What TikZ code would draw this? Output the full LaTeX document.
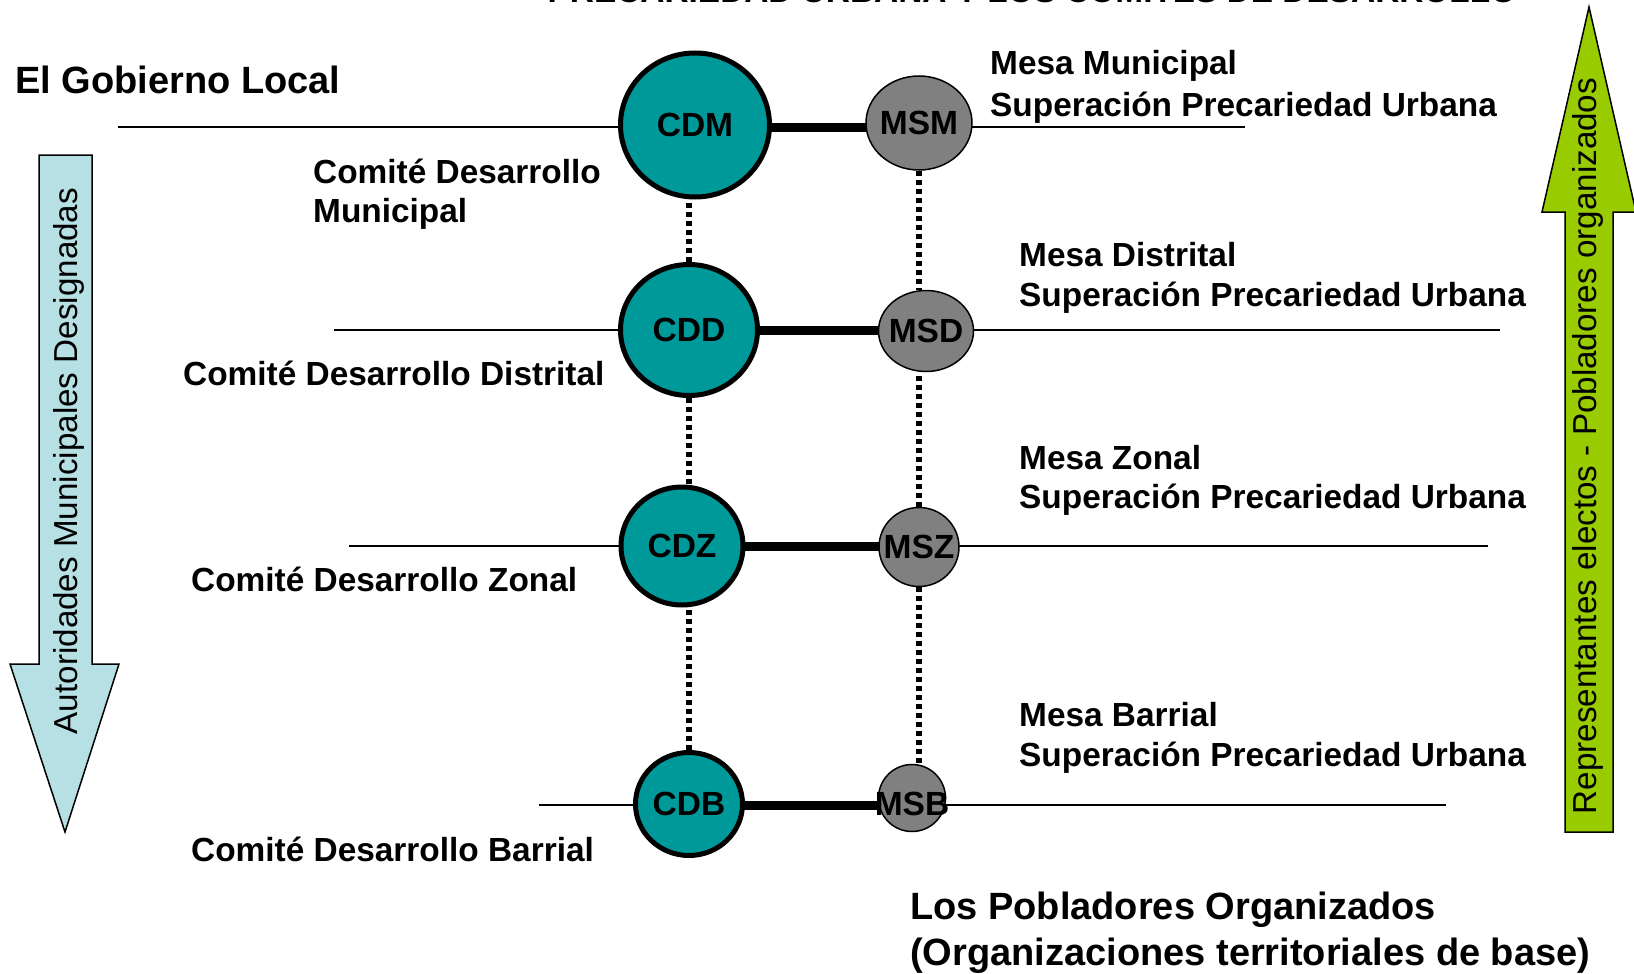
\documentclass[tikz,border=0pt]{standalone}
\usepackage{fontspec}
\setmainfont{Liberation Sans}
\usetikzlibrary{shapes.geometric}
\definecolor{cdteal}{RGB}{0,153,153}
\definecolor{msgray}{RGB}{128,128,128}
\definecolor{arrowblue}{RGB}{183,224,228}
\definecolor{arrowgreen}{RGB}{153,204,0}
\pgfdeclarelayer{bg}
\pgfsetlayers{bg,main}
\begin{document}
\begin{tikzpicture}[x=1pt,y=-1pt,
  thinline/.style={line width=1.5pt},
  thickline/.style={line width=9pt},
  dotline/.style={line width=5.5pt, dash pattern=on 5pt off 4pt},
  cdnode/.style={ellipse, draw, line width=5pt, fill=cdteal, inner sep=0pt,
    font=\bfseries\fontsize{33.5}{33.5}\selectfont},
  msnode/.style={ellipse, draw, line width=1.5pt, fill=msgray, inner sep=0pt},
  mslabel/.style={inner sep=0pt, font=\bfseries\fontsize{33.5}{33.5}\selectfont},
  lbl/.style={anchor=base west, inner sep=0pt, font=\bfseries\fontsize{33.4}{33.4}\selectfont},
  biglbl/.style={anchor=base west, inner sep=0pt, font=\bfseries\fontsize{38}{38}\selectfont},
  arrowtext/.style={rotate=90, inner sep=0pt, font=\fontsize{33.2}{33.2}\selectfont},
  bigarrow/.style={draw, line width=1.5pt, line join=miter}
]
\useasboundingbox (0,0) rectangle (1634,974);
\clip (0,0) rectangle (1634,974);

% cut-off title
\node[anchor=base, inner sep=0pt, font=\bfseries\fontsize{33.4}{33.4}\selectfont] (title) at (1032,3)
  {PRECARIEDAD URBANA Y LOS COMITES DE DESARROLLO};

% side arrows
\path[bigarrow, fill=arrowblue] (39,155) -- (92,155) -- (92,664) -- (119,664) -- (65,832)
  -- (10,664) -- (39,664) -- cycle;
\node[arrowtext] (lefttxt) at (69,461) {Autoridades Municipales Designadas};
\path[bigarrow, fill=arrowgreen] (1565,832) -- (1613,832) -- (1613,212) -- (1636,212) -- (1589,7)
  -- (1542,212) -- (1565,212) -- cycle;
\node[arrowtext] (righttxt) at (1588,446) {Representantes electos - Pobladores organizados};

% level lines end points
\coordinate (l1) at (118,127);  \coordinate (r1) at (1245,127);
\coordinate (l2) at (334,330);  \coordinate (r2) at (1500,330);
\coordinate (l3) at (349,546);  \coordinate (r3) at (1488,546);
\coordinate (l4) at (539,805);  \coordinate (r4) at (1446,805);

% committees
\node[cdnode, minimum width=149pt, minimum height=144pt] (cdm) at (695,125) {CDM};
\node[cdnode, minimum width=137pt, minimum height=131pt] (cdd) at (689,330) {CDD};
\node[cdnode, minimum width=122pt, minimum height=118pt] (cdz) at (682,546) {CDZ};
\node[cdnode, minimum width=107pt, minimum height=103pt] (cdb) at (689,804) {CDB};

% mesas
\node[msnode, minimum width=106pt, minimum height=94pt, label={[mslabel]center:MSM}] (msm) at (919,123) {};
\node[msnode, minimum width=95pt, minimum height=81pt, label={[mslabel]center:MSD}] (msd) at (926,331) {};
\node[msnode, minimum width=80pt, minimum height=79pt, label={[mslabel]center:MSZ}] (msz) at (919,547) {};
\node[msnode, minimum width=67pt, minimum height=67pt, label={[mslabel, yshift=-6pt]center:MSB}] (msb) at (912,798) {};

\begin{pgfonlayer}{bg}
  \draw[thinline] (l1) -- (r1);
  \draw[thinline] (l2) -- (r2);
  \draw[thinline] (l3) -- (r3);
  \draw[thinline] (l4) -- (r4);
  \draw[thickline] (l1 -| cdm.center) -- (l1 -| msm.center);
  \draw[thickline] (cdd.center) -- (cdd.center -| msd.center);
  \draw[thickline] (cdz.center) -- (cdz.center -| msz.center);
  \draw[thickline] (l4 -| cdb.center) -- (l4 -| msb.center);
\end{pgfonlayer}

% dotted vertical links
\draw[dotline] (cdd.north) -- (cdd.north |- cdm.south);
\draw[dotline] (cdd.south) -- (cdd.south |- cdz.north);
\draw[dotline] (cdb.north) -- (cdb.north |- cdz.south);
\draw[dotline] (msm.south) -- (msm.south |- msd.north);
\draw[dotline] (msz.north) -- (msz.north |- msd.south);
\draw[dotline] (msz.south) -- (msz.south |- msb.north);

% left labels
\node[biglbl] (gob) at (15,93) {El Gobierno Local};
\node[lbl] (cdmlbl1) at (313,183) {Comité Desarrollo};
\node[lbl] (cdmlbl2) at (313,222) {Municipal};
\node[lbl] (cddlbl) at (183,385) {Comité Desarrollo Distrital};
\node[lbl] (cdzlbl) at (191,591) {Comité Desarrollo Zonal};
\node[lbl] (cdblbl) at (191,861) {Comité Desarrollo Barrial};

% right labels
\node[lbl] (msmlbl1) at (990,75) {Mesa Municipal};
\node[lbl] (msmlbl2) at (990,116) {Superación Precariedad Urbana};
\node[lbl] (msdlbl1) at (1019,266) {Mesa Distrital};
\node[lbl] (msdlbl2) at (1019,306) {Superación Precariedad Urbana};
\node[lbl] (mszlbl1) at (1019,469) {Mesa Zonal};
\node[lbl] (mszlbl2) at (1019,508) {Superación Precariedad Urbana};
\node[lbl] (msblbl1) at (1019,726) {Mesa Barrial};
\node[lbl] (msblbl2) at (1019,766) {Superación Precariedad Urbana};

\node[biglbl] (pob1) at (910,919) {Los Pobladores Organizados};
\node[biglbl] (pob2) at (910,965) {(Organizaciones territoriales de base)};
\end{tikzpicture}
\end{document}
